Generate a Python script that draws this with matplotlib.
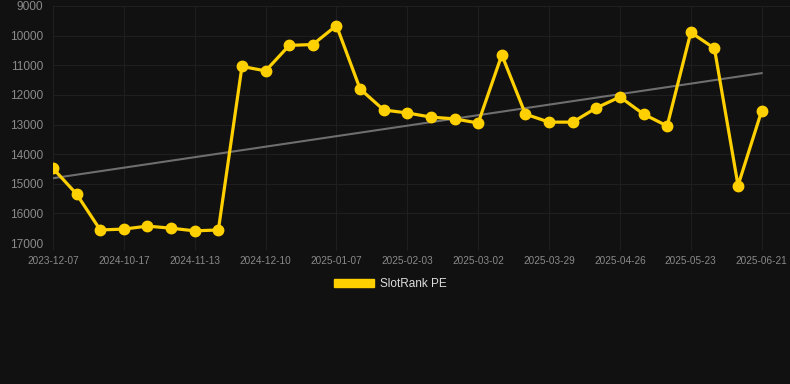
import matplotlib
matplotlib.use('Agg')
import matplotlib.pyplot as plt
import numpy as np

matplotlib.rcParams['font.family'] = ['Liberation Sans', 'DejaVu Sans']

# ranks (lower is better, axis inverted)
ranks = [14480, 15350, 16560, 16530, 16430, 16500, 16590, 16560,
         11040, 11190, 10330, 10300, 9660, 11800, 12510, 12610,
         12750, 12810, 12950, 10650, 12650, 12920, 12920, 12440,
         12070, 12650, 13050, 9890, 10430, 15060, 12540]
tick_labels = ['2023-12-07', '2024-10-17', '2024-11-13', '2024-12-10',
               '2025-01-07', '2025-02-03', '2025-03-02', '2025-03-29',
               '2025-04-26', '2025-05-23', '2025-06-21']
y_ticks = [9000, 10000, 11000, 12000, 13000, 14000, 15000, 16000, 17000]

BG = '#111111'
YELLOW = '#FFD000'

x = np.arange(len(ranks))
slope, icept = np.polyfit(x, ranks, 1)
trend = slope * x + icept

fig = plt.figure(figsize=(7.9, 3.84), dpi=100, facecolor=BG)
ax = fig.add_axes([53 / 790, 1 - 243 / 384, 1 - 53 / 790, (243 - 6) / 384])
ax.set_facecolor(BG)

ax.plot(x, trend, color='#6e6e6e', linewidth=1.5, zorder=2)
ax.plot(x, ranks, color=YELLOW, linewidth=2.3, marker='o', markersize=7.5,
        zorder=3, label='SlotRank PE')

ax.set_ylim(17000, 9000)
ax.set_yticks(y_ticks)
ax.set_xlim(0, 31.2)
ax.set_xticks(x[::3])
ax.set_xticklabels(tick_labels)

for s in ax.spines.values():
    s.set_visible(False)
ax.grid(True, color='#1f1f1f', linewidth=0.8)
ax.set_axisbelow(True)
ax.tick_params(axis='y', length=0, pad=7, labelsize=8.6, labelcolor='#8a8a8a')
ax.tick_params(axis='x', length=5, color='#1f1f1f', pad=4, labelsize=7.2,
               labelcolor='#8a8a8a')

leg = fig.legend(handles=[matplotlib.patches.Patch(color=YELLOW, label='SlotRank PE')],
                 loc='center', bbox_to_anchor=(0.494, 1 - 284 / 384), frameon=False,
                 fontsize=8.5, handlelength=3.4, handleheight=0.75, handletextpad=0.5)
for t in leg.get_texts():
    t.set_color('#dddddd')

fig.savefig('out.png', dpi=100, facecolor=BG)
